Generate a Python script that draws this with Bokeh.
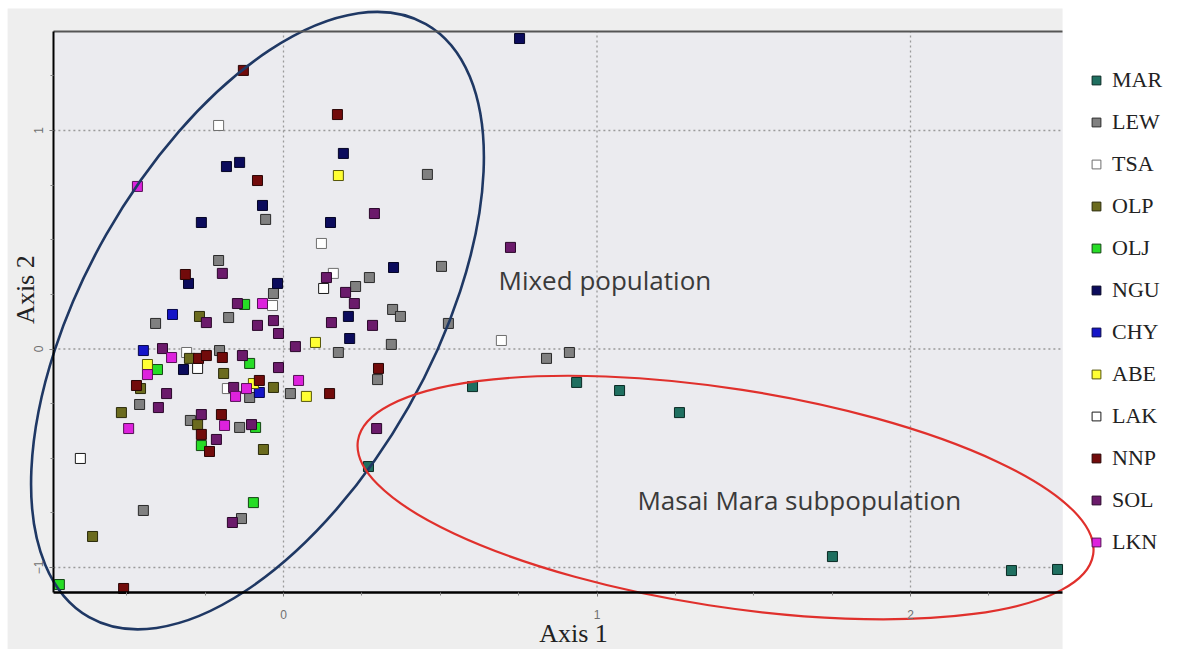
import math
from bokeh.plotting import figure
from bokeh.models import (Range1d, FixedTicker, LinearAxis, Legend, LegendItem, Label,
                          BoxAnnotation)
from bokeh.embed import file_html
from bokeh.resources import INLINE

# ---------------- data ----------------
groups = ["MAR", "LEW", "TSA", "OLP", "OLJ", "NGU", "CHY", "ABE", "LAK", "NNP", "SOL", "LKN"]
fill_colors = ["#1f6f60", "#808080", "#ffffff", "#6b6b1e", "#26dd26", "#0b0b5c",
               "#1515c8", "#ffff33", "#ffffff", "#720b0b", "#6b1a6b", "#dd22dd"]
line_colors = ["#0a2a24", "#2a2a2a", "#6e6e6e", "#2a2a0a", "#144414", "#050525",
               "#08084a", "#55550a", "#1a1a1a", "#2a0505", "#2a072a", "#551155"]

mar_x = [0.603, 0.935, 1.072, 1.263, 0.271, 1.751, 2.322, 2.469]
mar_y = [-0.172, -0.153, -0.190, -0.291, -0.538, -0.950, -1.014, -1.009]

lew_x = [-0.207, -0.057, -0.032, -0.408, -0.175, -0.204, -0.108, -0.459, -0.297, -0.140,
         -0.447, -0.134, 0.022, 0.175, 0.230, 0.274, 0.348, 0.373, 0.344, 0.300,
         0.459, 0.504, 0.526, 0.839, 0.912]
lew_y = [0.405, 0.593, 0.254, 0.117, 0.144, -0.007, -0.222, -0.254, -0.327, -0.359,
         -0.739, -0.776, -0.204, -0.016, 0.286, 0.327, 0.181, 0.149, 0.021, -0.140,
         0.799, 0.378, 0.117, -0.043, -0.016]

tsa_x = [-0.207, 0.121, 0.159, -0.035, -0.309, -0.179, 0.695]
tsa_y = [1.023, 0.483, 0.346, 0.199, -0.016, -0.181, 0.039]

olp_x = [-0.268, -0.300, -0.191, -0.456, -0.032, -0.517, -0.274, -0.064, -0.609]
olp_y = [0.149, -0.043, -0.112, -0.181, -0.176, -0.291, -0.346, -0.460, -0.858]

olj_x = [-0.124, -0.108, -0.402, -0.089, -0.262, -0.096, -0.715]
olj_y = [0.204, -0.066, -0.094, -0.359, -0.442, -0.703, -1.078]

ngu_x = [0.753, -0.182, -0.140, -0.067, -0.262, 0.191, 0.150, 0.351, -0.303, -0.019,
         0.207, 0.211, -0.319]
ngu_y = [1.421, 0.835, 0.854, 0.657, 0.579, 0.895, 0.579, 0.373, 0.300, 0.300,
         0.149, 0.048, -0.094]

chy_x = [-0.354, -0.447, -0.077]
chy_y = [0.158, -0.007, -0.199]

abe_x = [0.175, 0.102, 0.073, -0.434, -0.096]
abe_y = [0.794, 0.030, -0.217, -0.071, -0.158]

lak_x = [0.128, -0.274, -0.648]
lak_y = [0.277, -0.089, -0.501]

nnp_x = [-0.128, 0.172, -0.083, -0.313, -0.271, -0.246, -0.195, -0.469, -0.077, -0.198,
         -0.262, -0.236, 0.147, 0.303, -0.510]
nnp_y = [1.275, 1.073, 0.771, 0.341, -0.043, -0.030, -0.039, -0.167, -0.144, -0.300,
         -0.391, -0.469, -0.204, -0.089, -1.096]

sol_x = [0.290, 0.724, -0.195, -0.147, -0.246, -0.083, -0.032, -0.016, -0.386, -0.131,
         -0.016, -0.159, -0.373, -0.399, -0.262, -0.102, -0.214, -0.163, 0.038, 0.137,
         0.198, 0.226, 0.153, 0.284, 0.297]
sol_y = [0.620, 0.465, 0.346, 0.208, 0.121, 0.108, 0.130, 0.071, 0.002, -0.030,
         -0.085, -0.176, -0.204, -0.268, -0.300, -0.346, -0.414, -0.794, 0.011, 0.327,
         0.259, 0.208, 0.121, 0.108, -0.364]

lkn_x = [-0.466, -0.067, -0.357, -0.434, -0.153, -0.118, -0.494, -0.188, 0.048]
lkn_y = [0.744, 0.208, -0.039, -0.117, -0.217, -0.181, -0.364, -0.350, -0.144]

x_ticks = [0, 1, 2]
y_ticks = [-1, 0, 1]
x_minor = [-0.5, -0.25, 0.25, 0.5, 0.75, 1.25, 1.5, 1.75, 2.25]
y_minor = [-0.75, -0.5, -0.25, 0.25, 0.5, 0.75, 1.25]

xs_by = [mar_x, lew_x, tsa_x, olp_x, olj_x, ngu_x, chy_x, abe_x, lak_x, nnp_x, sol_x, lkn_x]
ys_by = [mar_y, lew_y, tsa_y, olp_y, olj_y, ngu_y, chy_y, abe_y, lak_y, nnp_y, sol_y, lkn_y]

# ---------------- layout ----------------
# plot box (data limits of the framed area)
X0, X1 = -0.734, 2.485
Y0, Y1 = -1.114, 1.453
# the whole canvas is used as frame so that the ellipses and titles are not clipped
VX0, VX1 = -0.9027, 2.8612
VY0, VY1 = -1.3753, 1.5950
GREY_LEFT, GREY_TOP = -0.880, 1.558

p = figure(width=1180, height=649, x_range=Range1d(VX0, VX1), y_range=Range1d(VY0, VY1),
           output_backend="svg", toolbar_location=None,
           x_axis_location=None, y_axis_location=None,
           min_border=0, min_border_left=0, min_border_right=0,
           min_border_top=0, min_border_bottom=0)
p.background_fill_color = "white"
p.border_fill_color = "white"
p.outline_line_color = None
p.xgrid.visible = False
p.ygrid.visible = False

p.add_layout(BoxAnnotation(left=GREY_LEFT, right=X1, bottom=VY0 - 1, top=GREY_TOP,
                           fill_color="#eeeeee", fill_alpha=1.0, line_color=None,
                           level="underlay"))
p.add_layout(BoxAnnotation(left=X0, right=X1, bottom=Y0, top=Y1,
                           fill_color="#ebebef", fill_alpha=1.0, line_color=None,
                           level="underlay"))

# dotted grid at the major ticks, limited to the plot box
p.segment(x0=x_ticks, y0=[Y0] * len(x_ticks), x1=x_ticks, y1=[Y1] * len(x_ticks),
          line_color="#9a9a9a", line_dash="2 3", line_width=1.3)
p.segment(x0=[X0] * len(y_ticks), y0=y_ticks, x1=[X1] * len(y_ticks), y1=y_ticks,
          line_color="#9a9a9a", line_dash="2 3", line_width=1.3)

xa = LinearAxis(fixed_location=Y0, bounds=(X0, X1),
                ticker=FixedTicker(ticks=x_ticks, minor_ticks=x_minor))
ya = LinearAxis(fixed_location=X0, bounds=(Y0, Y1),
                ticker=FixedTicker(ticks=y_ticks, minor_ticks=y_minor))
for ax in (xa, ya):
    ax.axis_line_color = "black"
    ax.major_tick_in = 0
    ax.major_tick_out = 4
    ax.minor_tick_in = 0
    ax.minor_tick_out = 3
    ax.major_tick_line_color = "#777777"
    ax.minor_tick_line_color = "#888888"
    ax.major_label_text_font = "Liberation Sans"
    ax.major_label_text_font_size = "12px"
    ax.major_label_text_color = "#707070"
xa.axis_line_width = 2.5
ya.axis_line_width = 2
xa.major_label_standoff = 14
ya.major_label_standoff = 6
ya.major_label_orientation = "vertical"
p.add_layout(xa, "below")
p.add_layout(ya, "left")
top = LinearAxis(fixed_location=Y1, bounds=(X0, X1), ticker=FixedTicker(ticks=[]),
                 axis_line_color="#555555", axis_line_width=2,
                 major_tick_line_color=None, minor_tick_line_color=None,
                 major_label_text_font_size="0px")
p.add_layout(top, "above")

items = []
for g, fc, lc, xs, ys in zip(groups, fill_colors, line_colors, xs_by, ys_by):
    r = p.scatter(xs, ys, marker="square", size=10, fill_color=fc, line_color=lc, line_width=1)
    items.append(LegendItem(label=g, renderers=[r]))

legend = Legend(items=items, location=(1085, 94), padding=0, margin=0, spacing=16,
                label_height=26, glyph_height=22, glyph_width=22, label_standoff=5,
                label_text_font="Liberation Serif", label_text_font_size="22px",
                label_text_color="#222222", background_fill_alpha=0, border_line_color=None)
p.add_layout(legend)

# ellipses drawn round the two groups (centre in data units, axes in pixels)
p.ellipse(x=[-0.083], y=[0.130], width=[682], height=[348], angle=[math.radians(60.4)],
          width_units="screen", height_units="screen",
          fill_color=None, line_color="#1f3864", line_width=2.6)
p.ellipse(x=[1.41], y=[-0.680], width=[744], height=[218], angle=[math.radians(-8.8)],
          width_units="screen", height_units="screen",
          fill_color=None, line_color="#e0302c", line_width=2.2)

p.add_layout(Label(x=0.686, y=0.318, text="Mixed population", text_font="Open Sans",
                   text_font_size="26px", text_color="#3a3a3a", text_baseline="middle"))
p.add_layout(Label(x=1.129, y=-0.689, text="Masai Mara subpopulation", text_font="Open Sans",
                   text_font_size="26px", text_color="#3a3a3a", text_baseline="middle"))

p.add_layout(Label(x=0.925, y=-1.302, text="Axis 1", text_font="Liberation Serif",
                   text_font_size="26px", text_color="#222222", text_align="center",
                   text_baseline="middle"))
p.add_layout(Label(x=-0.823, y=0.272, text="Axis 2", text_font="Liberation Serif",
                   text_font_size="26px", text_color="#222222", text_align="center",
                   text_baseline="middle", angle=math.pi / 2))

open("out.html", "w").write(file_html(p, INLINE))
